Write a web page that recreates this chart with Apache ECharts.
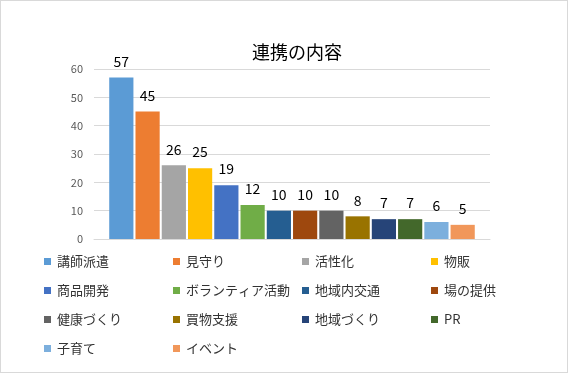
<!DOCTYPE html>
<html><head><meta charset="utf-8">
<script src="https://cdn.jsdelivr.net/npm/echarts@6/dist/echarts.min.js"></script>
<style>html,body{margin:0;padding:0;background:#fff}#c{width:566px;height:371px;border:1px solid #d9d9d9}</style>
</head><body><div id="c"></div>
<script>
const titleText = '連携の内容';
const names = ['講師派遣','見守り','活性化','物販','商品開発','ボランティア活動','地域内交通','場の提供','健康づくり','買物支援','地域づくり','PR','子育て','イベント'];
const values = [57,45,26,25,19,12,10,10,10,8,7,7,6,5];
const colors = ['#5B9BD5','#ED7D31','#A5A5A5','#FFC000','#4472C4','#70AD47','#255E91','#9E480E','#636363','#997300','#264478','#43682B','#7CAFDD','#F1975A'];
const yTicks = [0,10,20,30,40,50,60];

const font = '"Noto Sans CJK JP", "Noto Sans", sans-serif';
const chart = echarts.init(document.getElementById('c'));
const series = names.map((n,i)=>({
  name:n, type:'bar', data:[values[i]], barWidth:24.2, barGap:'8.5%',
  itemStyle:{color:colors[i]},
  label:{show:true, position:'top', distance:9, color:'#000', fontSize:14, fontFamily:font}
}));
const cols = [0,1,2,3].map(c=>names.filter((_,i)=>i%4===c));
const legends = cols.map((d,c)=>({
  data:d, orient:'vertical', left:38+129*c, top:249, itemWidth:7, itemHeight:7, itemGap:16,
  icon:'rect', textStyle:{fontSize:13, color:'#333', fontFamily:font, padding:[0,0,0,1]}
}));
chart.setOption({
  animation:false,
  title:{text:titleText, left:246, top:37, textStyle:{fontSize:18, fontWeight:'normal', color:'#000', fontFamily:font}},
  legend:legends,
  grid:{left:93, right:77, top:68, bottom:133, containLabel:false},
  xAxis:{type:'category', data:[''], axisTick:{show:false}, axisLabel:{show:false}, axisLine:{lineStyle:{color:'#d9d9d9'}}},
  yAxis:{type:'value', min:yTicks[0], max:yTicks[yTicks.length-1], interval:10,
    axisLabel:{color:'#595959', fontSize:11, fontFamily:font, margin:11},
    splitLine:{lineStyle:{color:'#d9d9d9'}}, axisLine:{show:false}, axisTick:{show:false}},
  series:series
});
</script></body></html>
